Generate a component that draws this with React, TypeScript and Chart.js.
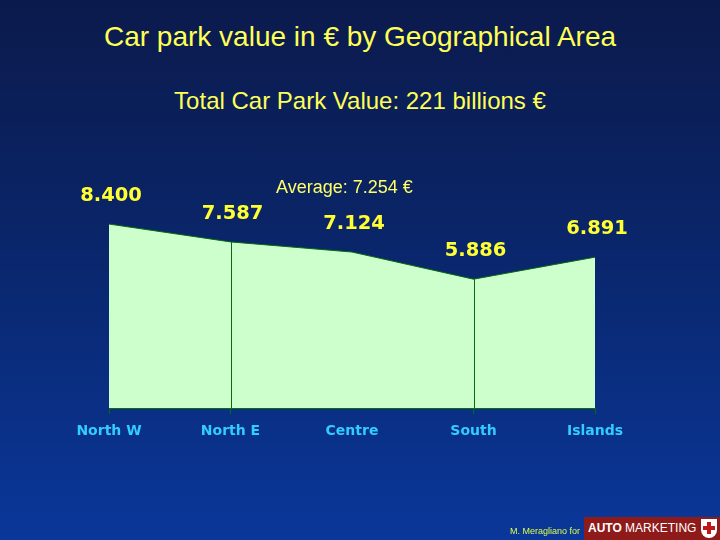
import React, { useEffect, useRef } from "react";
import { Chart, registerables } from "chart.js";

Chart.register(...registerables);

const categories = ["North W", "North E", "Centre", "South", "Islands"];
const values = [8.4, 7.587, 7.124, 5.886, 6.891];
const dropLineCategories = ["North E", "South"];
const tickCategories = ["North W", "North E", "South", "Islands"];
const titleText = "Car park value in € by Geographical Area";
const subtitleText = "Total Car Park Value: 221 billions €";
const averageText = "Average: 7.254 €";

const dropAndLabels = {
  id: "dropAndLabels",
  afterDatasetsDraw(chart: any) {
    const { ctx, scales } = chart;
    const meta = chart.getDatasetMeta(0);
    const yBase = scales.y.getPixelForValue(0);
    ctx.save();
    ctx.strokeStyle = "#0a6a10";
    ctx.lineWidth = 1;
    meta.data.forEach((pt: any, i: number) => {
      if (dropLineCategories.includes(categories[i])) {
        const x = Math.round(pt.x) + 0.5;
        ctx.beginPath();
        ctx.moveTo(x, pt.y);
        ctx.lineTo(x, yBase);
        ctx.stroke();
      }
    });
    ctx.fillStyle = "#ffff33";
    ctx.font = "bold 19.5px 'DejaVu Sans'";
    ctx.textAlign = "center";
    ctx.textBaseline = "middle";
    meta.data.forEach((pt: any, i: number) => {
      ctx.fillText(values[i].toFixed(3), pt.x + 2, pt.y - 28);
    });
    ctx.restore();
  },
};

function ChartCanvas() {
  const ref = useRef<HTMLCanvasElement | null>(null);
  useEffect(() => {
    if (!ref.current) return;
    const chart = new Chart(ref.current, {
      type: "line",
      data: {
        labels: categories,
        datasets: [
          {
            data: values,
            fill: "origin",
            backgroundColor: "#ccffcc",
            borderColor: "#0a6a10",
            borderWidth: 1,
            pointRadius: 0,
            tension: 0,
          },
        ],
      },
      options: {
        animation: false,
        responsive: false,
        maintainAspectRatio: false,
        layout: { padding: { left: 109, right: 125, top: 189, bottom: 91 } },
        plugins: { legend: { display: false }, tooltip: { enabled: false }, title: { display: false } },
        scales: {
          x: {
            offset: false,
            border: { display: true, color: "#0a6a10", width: 1 },
            grid: {
              drawOnChartArea: false,
              drawTicks: true,
              tickLength: 6,
              color: (c: any) =>
                tickCategories.includes(categories[c.index]) ? "#0a6a10" : "rgba(0,0,0,0)",
            },
            ticks: {
              color: "#33ccff",
              font: { family: "'DejaVu Sans'", weight: "bold", size: 14 },
              padding: 9,
              maxRotation: 0,
              autoSkip: false,
            },
          },
          y: { display: false, min: 0, max: 10 },
        },
      },
      plugins: [dropAndLabels],
    });
    return () => chart.destroy();
  }, []);
  return <canvas ref={ref} width={720} height={540} style={{ position: "absolute", left: 0, top: 0 }} />;
}

export default function App() {
  useEffect(() => {
    document.body.style.margin = "0";
  }, []);
  const sans = "'Liberation Sans', Arial, sans-serif";
  return (
    <div
      style={{
        position: "fixed",
        left: 0,
        top: 0,
        width: 720,
        height: 540,
        overflow: "hidden",
        background: "linear-gradient(to bottom, #0b1a4c 0%, #0a2466 40%, #0a379a 100%)",
        fontFamily: sans,
      }}
    >
      <div style={{ position: "absolute", top: 20, left: 0, width: 720, textAlign: "center", color: "#ffff55", fontSize: 28, lineHeight: "34px" }}>
        {titleText}
      </div>
      <div style={{ position: "absolute", top: 87, left: 0, width: 720, textAlign: "center", color: "#ffff55", fontSize: 24, lineHeight: "28px" }}>
        {subtitleText}
      </div>
      <ChartCanvas />
      <div style={{ position: "absolute", top: 176, left: 276, color: "#ffff66", fontSize: 18, lineHeight: "22px" }}>{averageText}</div>
      <div style={{ position: "absolute", top: 526, left: 510, color: "#ddff44", fontSize: 9 }}>M. Meragliano for</div>
      <div
        style={{
          position: "absolute",
          left: 584,
          top: 517,
          width: 136,
          height: 23,
          background: "#8e1a1a",
          color: "#fff",
          fontSize: 12,
          lineHeight: "23px",
          paddingLeft: 4,
          boxSizing: "border-box",
          whiteSpace: "nowrap",
        }}
      >
        <b>AUTO</b> MARKETING
        <span
          style={{
            position: "absolute",
            right: 3,
            top: 2,
            width: 16,
            height: 19,
            background: "#fff",
            borderRadius: "0 0 8px 8px",
          }}
        >
          <span style={{ position: "absolute", left: 6, top: 3, width: 4, height: 12, background: "#c01818" }} />
          <span style={{ position: "absolute", left: 2, top: 7, width: 12, height: 4, background: "#c01818" }} />
        </span>
      </div>
    </div>
  );
}
